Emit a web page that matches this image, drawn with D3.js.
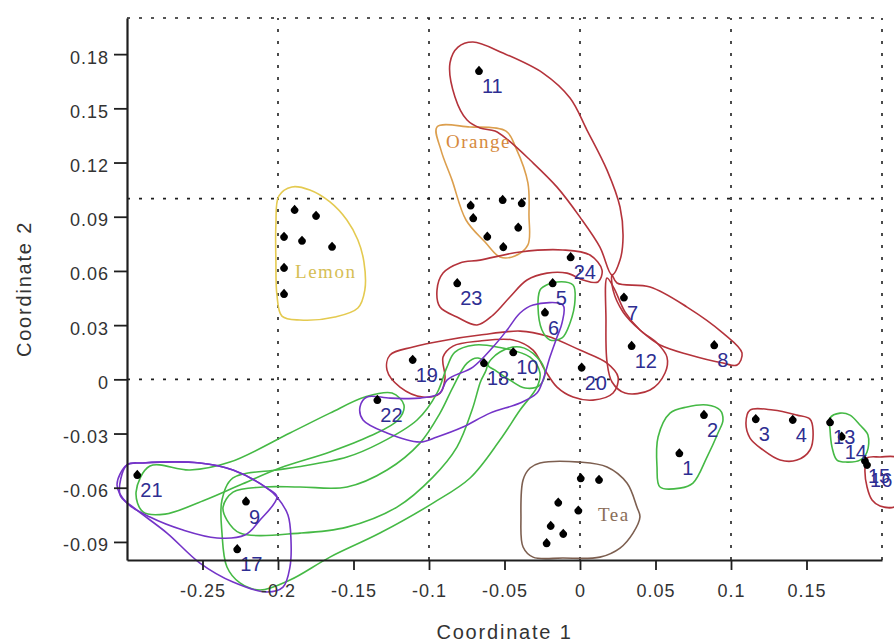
<!DOCTYPE html>
<html>
<head>
<meta charset="utf-8">
<script src="https://cdn.jsdelivr.net/npm/d3@7"></script>
<style>
  body { margin: 0; background: #fff; }
  svg { display: block; }
</style>
</head>
<body>
<svg id="chart" width="894" height="642"></svg>
<script>
// ---- numbered samples (MDS coordinates) ----
const sampleIds = ["1","2","3","4","5","6","7","8","9","10","11","12",
                   "13","14","15","16","17","18","19","20","21","22","23","24"];
const sampleX = [0.0658, 0.0821, 0.1164, 0.1409, -0.0181, -0.0232, 0.0291, 0.0889,
                 -0.2212, -0.0442, -0.0669, 0.0342, 0.1656, 0.1733, 0.1887, 0.1901,
                 -0.2270, -0.0636, -0.1108, 0.0011, -0.2932, -0.1342, -0.0813, -0.0062];
const sampleY = [-0.0410, -0.0198, -0.0221, -0.0225, 0.0531, 0.0369, 0.0452, 0.0188,
                 -0.0677, 0.0149, 0.1706, 0.0184, -0.0238, -0.0318, -0.0451, -0.0474,
                 -0.0941, 0.0089, 0.0107, 0.0064, -0.0530, -0.0115, 0.0531, 0.0675];

// ---- reference samples ----
const lemonX  = [-0.1890, -0.1748, -0.1960, -0.1841, -0.1642, -0.1960, -0.1960];
const lemonY  = [0.0937, 0.0904, 0.0788, 0.0766, 0.0733, 0.0616, 0.0472];
const orangeX = [-0.0724, -0.0512, -0.0386, -0.0707, -0.0409, -0.0614, -0.0508];
const orangeY = [0.0961, 0.0992, 0.0974, 0.0891, 0.0839, 0.0789, 0.0731];
const teaX    = [0.0005, 0.0126, -0.0144, -0.0011, -0.0194, -0.0111, -0.0221];
const teaY    = [-0.0548, -0.0557, -0.0683, -0.0727, -0.0812, -0.0856, -0.0908];

const groupNames  = ["Lemon", "Orange", "Tea"];
const groupLabelX = [-0.1887, -0.0887, 0.0119];
const groupLabelY = [0.0561, 0.1281, -0.0784];

// ---- axes ----
const xTicks = [-0.25, -0.2, -0.15, -0.1, -0.05, 0, 0.05, 0.1, 0.15];
const xTickLabels = ["-0.25", "-0.2", "-0.15", "-0.1", "-0.05", "0", "0.05", "0.1", "0.15"];
const yTicks = [0.18, 0.15, 0.12, 0.09, 0.06, 0.03, 0, -0.03, -0.06, -0.09];
const yTickLabels = ["0.18", "0.15", "0.12", "0.09", "0.06", "0.03", "0", "-0.03", "-0.06", "-0.09"];
const gridX = [-0.2, -0.1, 0, 0.1, 0.2];
const gridY = [0, 0.1, 0.2];

// ---- cluster outlines ----
const lemonLoop = [[-0.1994,0.1015],[-0.1908,0.1065],[-0.1789,0.1048],[-0.1656,0.0982],[-0.1544,0.0882],
  [-0.1471,0.0771],[-0.1431,0.0650],[-0.1425,0.0494],[-0.1471,0.0395],[-0.1623,0.0345],[-0.1855,0.0328],
  [-0.1974,0.0350],[-0.2007,0.0467],[-0.2014,0.0660],[-0.2014,0.0854]];
const orangeLoop = [[-0.0947,0.1397],[-0.0729,0.1397],[-0.0490,0.1374],[-0.0424,0.1280],[-0.0345,0.1087],
  [-0.0338,0.0910],[-0.0345,0.0744],[-0.0431,0.0683],[-0.0530,0.0677],[-0.0629,0.0760],[-0.0755,0.0882],
  [-0.0848,0.1104],[-0.0921,0.1270]];
const teaLoop = [[-0.0265,-0.0463],[0.0,-0.0458],[0.0179,-0.0485],[0.0311,-0.0574],[0.0377,-0.0707],
  [0.0397,-0.0762],[0.0351,-0.0851],[0.0265,-0.0934],[0.0132,-0.0984],[-0.0113,-0.0989],[-0.0311,-0.0984],
  [-0.0377,-0.0928],[-0.0391,-0.0762],[-0.0377,-0.0557],[-0.0331,-0.0491]];

const loop11 = [[-0.0709,0.1867],[-0.0510,0.1806],[-0.0245,0.1695],[-0.0066,0.1557],[0.0046,0.1380],
  [0.0179,0.1158],[0.0265,0.0954],[0.0285,0.0788],[0.0265,0.0660],[0.0212,0.0577],[0.0132,0.0732],
  [0.0,0.0898],[-0.0152,0.1064],[-0.0331,0.1214],[-0.0477,0.1325],[-0.0563,0.1374],[-0.0662,0.1391],
  [-0.0748,0.1435],[-0.0828,0.1563],[-0.0861,0.1751],[-0.0808,0.1839]];
const loop7and8 = [[0.0212,0.0577],[0.0245,0.0533],[0.0464,0.0511],[0.0709,0.0400],[0.0947,0.0256],
  [0.1073,0.0146],[0.1040,0.0079],[0.0947,0.0090],[0.0728,0.0135],[0.0530,0.0190],[0.0397,0.0273],
  [0.0285,0.0373],[0.0219,0.0494]];
const loop12 = [[0.0179,0.0561],[0.0172,0.0328],[0.0179,0.0096],[0.0212,-0.0015],[0.0298,-0.0076],
  [0.0464,-0.0059],[0.0563,0.0035],[0.0576,0.0123],[0.0510,0.0201],[0.0397,0.0273],[0.0298,0.0373],
  [0.0225,0.0505]];
const loop23and24 = [[-0.0662,0.0660],[-0.0397,0.0705],[-0.0113,0.0716],[0.0066,0.0688],[0.0146,0.0605],
  [0.0119,0.0539],[0.0020,0.0550],[-0.0086,0.0588],[-0.0219,0.0588],[-0.0351,0.0550],[-0.0464,0.0456],
  [-0.0576,0.0356],[-0.0682,0.0301],[-0.0815,0.0345],[-0.0927,0.0400],[-0.0947,0.0494],[-0.0907,0.0588],
  [-0.0795,0.0644]];
const loop19and20 = [[-0.1258,0.0135],[-0.1106,0.0179],[-0.0881,0.0218],[-0.0662,0.0245],[-0.0397,0.0267],
  [-0.0219,0.0240],[0.0,0.0162],[0.0179,0.0090],[0.0252,0.0013],[0.0219,-0.0076],[0.0086,-0.0115],
  [-0.0046,-0.0098],[-0.0152,-0.0043],[-0.0232,0.0051],[-0.0311,0.0162],[-0.0444,0.0218],[-0.0662,0.0212],
  [-0.0841,0.0184],[-0.0907,0.0123],[-0.0894,0.0007],[-0.0927,-0.0076],[-0.1040,-0.0098],[-0.1192,-0.0043],
  [-0.1278,0.0051]];
const loop3and4 = [[0.1126,-0.0170],[0.1278,-0.0170],[0.1437,-0.0198],[0.1523,-0.0220],[0.1543,-0.0281],
  [0.1523,-0.0391],[0.1437,-0.0447],[0.1325,-0.0447],[0.1212,-0.0391],[0.1126,-0.0325],[0.1099,-0.0242]];
const loop15and16 = [[0.1901,-0.0436],[0.1987,-0.0430],[0.2106,-0.0436],[0.2132,-0.0568],[0.2093,-0.0701],
  [0.1987,-0.0701],[0.1934,-0.0668],[0.1901,-0.0596],[0.1887,-0.0502]];

const loop5and6 = [[-0.0245,0.0511],[-0.0152,0.0539],[-0.0046,0.0522],[-0.0033,0.0439],[-0.0066,0.0312],
  [-0.0119,0.0229],[-0.0199,0.0218],[-0.0252,0.0273],[-0.0278,0.0400],[-0.0265,0.0494]];
const loop1and2 = [[0.0596,-0.0187],[0.0709,-0.0153],[0.0841,-0.0142],[0.0927,-0.0170],[0.0947,-0.0225],
  [0.0914,-0.0297],[0.0841,-0.0430],[0.0748,-0.0574],[0.0662,-0.0602],[0.0530,-0.0596],[0.0510,-0.0485],
  [0.0517,-0.0319]];
const loop13and14 = [[0.1656,-0.0214],[0.1722,-0.0187],[0.1788,-0.0198],[0.1854,-0.0253],[0.1907,-0.0308],
  [0.1901,-0.0402],[0.1854,-0.0447],[0.1768,-0.0458],[0.1702,-0.0447],[0.1669,-0.0375],[0.1656,-0.0281]];
const loop10 = [[-0.0609,0.0079],[-0.0530,0.0151],[-0.0397,0.0179],[-0.0285,0.0123],[-0.0232,0.0040],
  [-0.0265,-0.0032],[-0.0364,-0.0048],[-0.0464,-0.0004],[-0.0563,0.0051]];
const loop22to21 = [[-0.2848,-0.0480],[-0.2583,-0.0502],[-0.2318,-0.0458],[-0.1921,-0.0297],[-0.1656,-0.0187],
  [-0.1424,-0.0098],[-0.1245,-0.0076],[-0.1166,-0.0142],[-0.1205,-0.0225],[-0.1391,-0.0314],[-0.1656,-0.0402],
  [-0.1987,-0.0491],[-0.2252,-0.0585],[-0.2483,-0.0668],[-0.2748,-0.0746],[-0.2894,-0.0734],[-0.2940,-0.0624]];
const loop9to18 = [[-0.1854,-0.0596],[-0.2099,-0.0596],[-0.2298,-0.0624],[-0.2364,-0.0707],[-0.2338,-0.0779],
  [-0.2252,-0.0851],[-0.1854,-0.0851],[-0.1543,-0.0818],[-0.1212,-0.0707],[-0.0974,-0.0541],[-0.0815,-0.0375],
  [-0.0715,-0.0170],[-0.0662,-0.0020],[-0.0616,0.0079],[-0.0675,0.0118],[-0.0748,0.0090],[-0.0841,-0.0043],
  [-0.0927,-0.0187],[-0.1060,-0.0353],[-0.1278,-0.0502],[-0.1543,-0.0596]];
const loop17to10 = [[-0.2119,-0.1166],[-0.2252,-0.1127],[-0.2338,-0.1039],[-0.2371,-0.0851],[-0.2371,-0.0668],
  [-0.2298,-0.0546],[-0.2007,-0.0502],[-0.1874,-0.0485],[-0.1543,-0.0430],[-0.1325,-0.0353],[-0.1079,-0.0225],
  [-0.0947,-0.0076],[-0.0881,0.0068],[-0.0828,0.0151],[-0.0695,0.0190],[-0.0550,0.0179],[-0.0331,0.0123],
  [-0.0265,0.0035],[-0.0285,-0.0043],[-0.0397,-0.0170],[-0.0530,-0.0336],[-0.0728,-0.0546],[-0.0974,-0.0685],
  [-0.1325,-0.0851],[-0.1656,-0.0984],[-0.1921,-0.1111]];

const loop6to22 = [[-0.0311,0.0411],[-0.0113,0.0411],[-0.0119,0.0312],[-0.0152,0.0234],[-0.0199,0.0123],
  [-0.0245,-0.0004],[-0.0285,-0.0076],[-0.0397,-0.0131],[-0.0596,-0.0187],[-0.0775,-0.0264],[-0.0947,-0.0319],
  [-0.1060,-0.0347],[-0.1278,-0.0297],[-0.1437,-0.0225],[-0.1457,-0.0153],[-0.1411,-0.0098],[-0.1258,-0.0104],
  [-0.1060,-0.0104],[-0.0927,-0.0076],[-0.0881,-0.0004],[-0.0709,0.0068],[-0.0576,0.0179],[-0.0483,0.0273],
  [-0.0397,0.0367]];
const loop21and9 = [[-0.3000,-0.0474],[-0.2894,-0.0463],[-0.2517,-0.0463],[-0.2298,-0.0502],[-0.2073,-0.0602],
  [-0.2007,-0.0651],[-0.2119,-0.0779],[-0.2219,-0.0862],[-0.2404,-0.0878],[-0.2629,-0.0834],[-0.2848,-0.0762],
  [-0.3000,-0.0685],[-0.3066,-0.0585]];
const loop21and17 = [[-0.3000,-0.0474],[-0.2894,-0.0463],[-0.2517,-0.0463],[-0.2298,-0.0502],[-0.2073,-0.0602],
  [-0.2007,-0.0651],[-0.1934,-0.0751],[-0.1914,-0.0889],[-0.1921,-0.1039],[-0.1967,-0.1150],[-0.2073,-0.1177],
  [-0.2298,-0.1122],[-0.2517,-0.1017],[-0.2735,-0.0851],[-0.2960,-0.0707],[-0.3046,-0.0640]];

const RED = "#b4333b", GREEN = "#45b945", PURPLE = "#7434c8";
const outlines = [
  { pts: lemonLoop,   color: "#e4ca50" },
  { pts: orangeLoop,  color: "#dc9f4e" },
  { pts: teaLoop,     color: "#7d5f50" },
  { pts: loop11,      color: RED },
  { pts: loop7and8,   color: RED },
  { pts: loop12,      color: RED },
  { pts: loop23and24, color: RED },
  { pts: loop19and20, color: RED },
  { pts: loop3and4,   color: RED },
  { pts: loop15and16, color: RED },
  { pts: loop22to21,  color: GREEN },
  { pts: loop9to18,   color: GREEN },
  { pts: loop17to10,  color: GREEN },
  { pts: loop10,      color: GREEN },
  { pts: loop5and6,   color: GREEN },
  { pts: loop1and2,   color: GREEN },
  { pts: loop13and14, color: GREEN },
  { pts: loop6to22,   color: PURPLE },
  { pts: loop21and9,  color: PURPLE },
  { pts: loop21and17, color: PURPLE }
];

// ---- drawing ----
const svg = d3.select("#chart");
const x = d3.scaleLinear().domain([-0.3, 0.2]).range([127, 882]);
const y = d3.scaleLinear().domain([-0.1, 0.2]).range([560, 18]);
const SANS = "'Liberation Sans', Arial, sans-serif";

svg.append("rect").attr("width", 894).attr("height", 642).attr("fill", "#fff");

// dotted grid (top and right borders are dotted too)
const grid = svg.append("g").attr("stroke", "#1e1e1e").attr("stroke-width", 1.6)
  .attr("stroke-dasharray", "3,9");
grid.selectAll("line.v").data(gridX).join("line").attr("class", "v")
  .attr("x1", d => x(d)).attr("x2", d => x(d)).attr("y1", y(-0.1)).attr("y2", y(0.2));
grid.selectAll("line.h").data(gridY).join("line").attr("class", "h")
  .attr("y1", d => y(d)).attr("y2", d => y(d)).attr("x1", x(-0.3)).attr("x2", x(0.2));

// cluster outlines
const loopLine = d3.line().x(d => x(d[0])).y(d => y(d[1]))
  .curve(d3.curveCatmullRomClosed.alpha(0.5));
svg.append("g").selectAll("path").data(outlines).join("path")
  .attr("d", d => loopLine(d.pts)).attr("fill", "none")
  .attr("stroke", d => d.color).attr("stroke-width", 1.6).attr("stroke-linejoin", "round");

// marker: small spade-like blob
const blob = {
  draw(ctx, size) {
    const r = Math.sqrt(size / Math.PI);
    ctx.moveTo(0, -r * 1.35);
    ctx.lineTo(r * 0.95, -r * 0.3);
    ctx.arc(0, 0, r, -0.3, Math.PI + 0.3);
    ctx.closePath();
  }
};
const sym = d3.symbol().type(blob).size(48);

const samples = sampleIds.map((id, i) => ({ id, x: sampleX[i], y: sampleY[i] }));
const refs = [];
lemonX.forEach((v, i) => refs.push({ x: v, y: lemonY[i] }));
orangeX.forEach((v, i) => refs.push({ x: v, y: orangeY[i] }));
teaX.forEach((v, i) => refs.push({ x: v, y: teaY[i] }));

svg.append("g").selectAll("path").data(samples.concat(refs)).join("path")
  .attr("transform", d => `translate(${x(d.x)},${y(d.y)})`)
  .attr("d", sym).attr("fill", "#000");

// sample numbers
svg.append("g").selectAll("text").data(samples).join("text")
  .attr("x", d => x(d.x) + 3).attr("y", d => y(d.y) + 22)
  .attr("font-family", SANS).attr("font-size", 20).attr("fill", "#2e2e92")
  .text(d => d.id);

// group names
const groupColors = ["#d6be55", "#d68a3e", "#8a6d58"];
svg.append("g").selectAll("text").data(groupNames).join("text")
  .attr("x", (d, i) => x(groupLabelX[i])).attr("y", (d, i) => y(groupLabelY[i]))
  .attr("font-family", "'Liberation Serif', 'Times New Roman', serif")
  .attr("font-size", 19).attr("letter-spacing", "1.5px")
  .attr("fill", (d, i) => groupColors[i]).text(d => d);

// axes
const xAxis = svg.append("g").attr("transform", `translate(0,${y(-0.1)})`)
  .call(d3.axisBottom(x).tickValues(xTicks).tickFormat((d, i) => xTickLabels[i])
    .tickSize(10).tickSizeOuter(0).tickPadding(14));
const yAxis = svg.append("g").attr("transform", `translate(${x(-0.3)},0)`)
  .call(d3.axisLeft(y).tickValues(yTicks).tickFormat((d, i) => yTickLabels[i])
    .tickSize(13).tickSizeOuter(0).tickPadding(5));

[xAxis, yAxis].forEach(g => {
  g.select(".domain").attr("stroke", "#1e1e1e").attr("stroke-width", 2.2);
  g.selectAll(".tick line").attr("stroke", "#1e1e1e").attr("stroke-width", 1.8);
  g.selectAll(".tick text").attr("font-family", SANS).attr("font-size", 18)
    .attr("letter-spacing", "1px").attr("fill", "#333");
});
yAxis.selectAll(".tick text").attr("dy", "0.5em");

// axis titles
svg.append("text").attr("x", (x(-0.3) + x(0.2)) / 2).attr("y", 639)
  .attr("text-anchor", "middle").attr("font-family", SANS).attr("font-size", 20)
  .attr("letter-spacing", "1.8px").attr("fill", "#333").text("Coordinate 1");
svg.append("text").attr("transform", `translate(31,${(y(-0.1) + y(0.2)) / 2}) rotate(-90)`)
  .attr("text-anchor", "middle").attr("font-family", SANS).attr("font-size", 20)
  .attr("letter-spacing", "1.8px").attr("fill", "#333").text("Coordinate 2");
</script>
</body>
</html>
